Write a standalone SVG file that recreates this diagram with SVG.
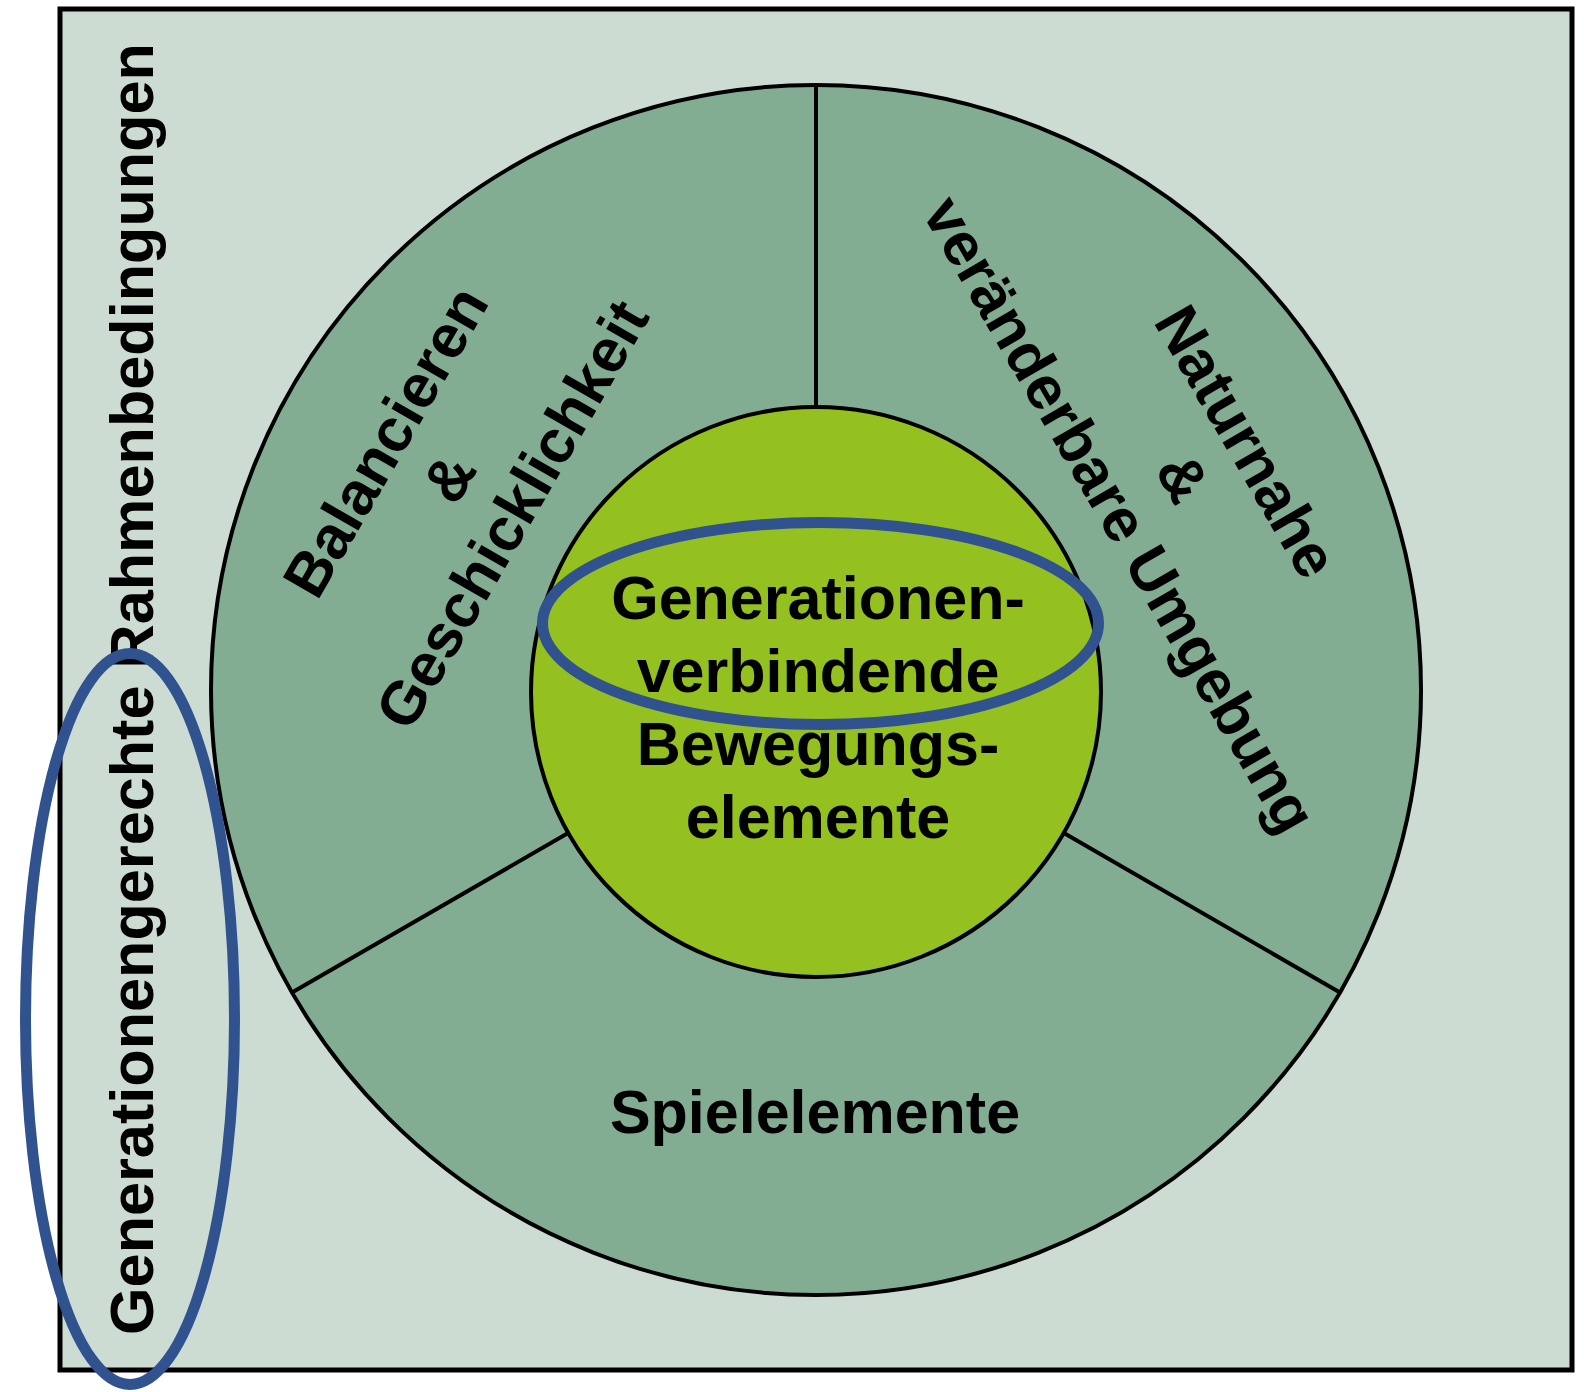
<svg xmlns="http://www.w3.org/2000/svg" width="1584" height="1392" viewBox="0 0 1584 1392">
<style>
.t{font-family:"Liberation Sans",Arial,sans-serif;font-weight:bold;font-size:61px;fill:#000;text-anchor:middle}
.ring{fill:#82AD93;stroke:#000;stroke-width:4}
.core{fill:#94C11F;stroke:#000;stroke-width:4}
.div{stroke:#000;stroke-width:4;fill:none}
.mark{fill:none;stroke:#30528F;stroke-width:11}
</style>
<rect width="1584" height="1392" fill="#FFFFFF"/>
<g id="frame">
<rect x="60" y="9" width="1512" height="1361" fill="#CCDCD3" stroke="#000" stroke-width="5"/>
<text class="t" transform="translate(153,689) rotate(-90)" x="0" y="0" textLength="1292" lengthAdjust="spacingAndGlyphs">Generationengerechte Rahmenbedingungen</text>
</g>
<g id="outer-ring">
<circle class="ring" cx="816" cy="690" r="605"/>
</g>
<g id="connectors">
<line class="div" x1="816" y1="85" x2="816" y2="405"/>
<line class="div" x1="292" y1="992.5" x2="569" y2="832.5"/>
<line class="div" x1="1340" y1="992.5" x2="1063" y2="832.5"/>
</g>
<g id="balancieren">
<g transform="translate(816,690) rotate(-60)">
<text class="t" x="0" y="-476">Balancieren</text>
<text class="t" x="0" y="-403">&amp;</text>
<text class="t" x="0" y="-330">Geschicklichkeit</text>
</g>
</g>
<g id="naturnahe">
<g transform="translate(816,690) rotate(60)">
<text class="t" x="0" y="-476">Naturnahe</text>
<text class="t" x="0" y="-403">&amp;</text>
<text class="t" x="0" y="-330">veränderbare Umgebung</text>
</g>
</g>
<g id="spielelemente">
<text class="t" x="815" y="1133">Spielelemente</text>
</g>
<g id="center">
<circle class="core" cx="816" cy="692" r="285"/>
<text class="t" x="818" y="619">Generationen-</text>
<text class="t" x="818" y="692">verbindende</text>
<text class="t" x="818" y="765">Bewegungs-</text>
<text class="t" x="818" y="838">elemente</text>
</g>
<g id="highlight-center">
<ellipse class="mark" cx="820.5" cy="623.5" rx="278" ry="101"/>
</g>
<g id="highlight-left">
<ellipse class="mark" cx="130" cy="1019" rx="104.5" ry="365.5"/>
</g>
</svg>
